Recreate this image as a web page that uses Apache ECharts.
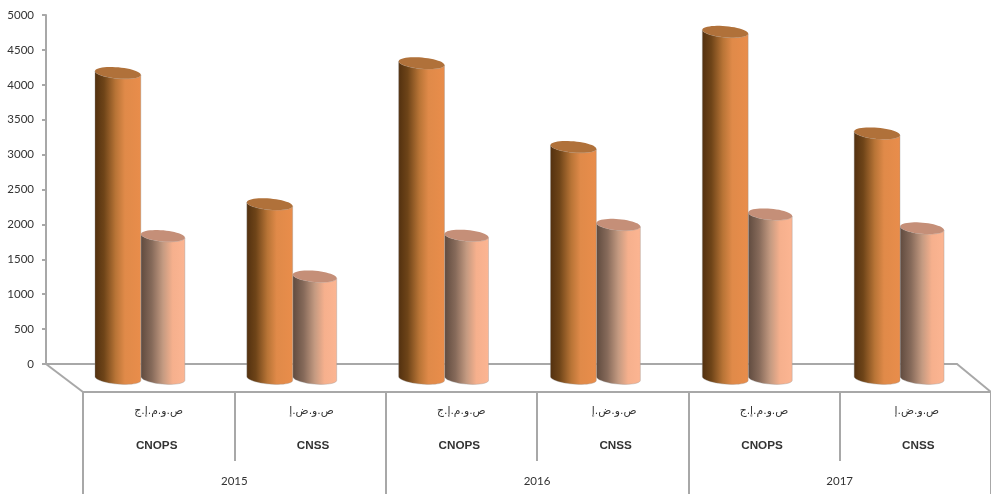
<!DOCTYPE html>
<html><head><meta charset="utf-8">
<script src="https://cdn.jsdelivr.net/npm/echarts@6/dist/echarts.min.js"></script>
<style>html,body{margin:0;padding:0;background:#fff}#c{width:991px;height:494px}</style>
</head><body><div id="c"></div>
<script>
const arabicLabels = ['ص.و.م.إ.ج','ص.و.ض.إ','ص.و.م.إ.ج','ص.و.ض.إ','ص.و.م.إ.ج','ص.و.ض.إ'];
const schemes = ['CNOPS','CNSS','CNOPS','CNSS','CNOPS','CNSS'];
const years = ['2015','2016','2017'];
const darkValues = [4170,2290,4310,3110,4760,3305];
const lightValues = [1835,1255,1840,1995,2145,1945];

const GREY = '#a8a8a8';
const DEPTH_X = 19, DEPTH_Y = 15;

function ellipsePts(cx, cy, rx, ry, from, to, n) {
  const a = 5 * Math.PI / 180, pts = [];
  for (let i = 0; i <= n; i++) {
    const t = from + (to - from) * i / n;
    pts.push([cx + rx * Math.cos(t) * Math.cos(a) - ry * Math.sin(t) * Math.sin(a),
              cy + rx * Math.cos(t) * Math.sin(a) + ry * Math.sin(t) * Math.cos(a)]);
  }
  return pts;
}
function grad(stops) {
  return {type:'linear',x:0,y:0,x2:1,y2:0,colorStops:stops.map(s=>({offset:s[0],color:s[1]}))};
}
function cylinder(side, widthFrac, stops, topColor) {
  return function (params, api) {
    const band = api.size([1, 0])[0];
    const w = band * widthFrac;
    const p = api.coord([api.value(0), api.value(1)]);
    const zero = api.coord([api.value(0), 0]);
    const seam = p[0] + DEPTH_X;
    const cx = side < 0 ? seam - w / 2 : seam + w / 2;
    const rx = w / 2, ry = 5.6;
    const topY = p[1], botY = zero[1] + DEPTH_Y - 0.5;
    const body = ellipsePts(cx, botY, rx, ry, 0, Math.PI, 24)
      .concat(ellipsePts(cx, topY, rx, ry, Math.PI, 0, 24));
    return {type:'group', children:[
      {type:'polygon', shape:{points:body}, style:{fill:grad(stops), stroke:'rgba(150,150,150,0.5)', lineWidth:0.7}},
      {type:'polygon', shape:{points:ellipsePts(cx, topY, rx, ry, 0, 2*Math.PI, 48)}, style:{fill:topColor}}
    ]};
  };
}
function floor(params, api) {
  const c = params.coordSys;
  const y = c.y + c.height;
  return {type:'group', children:[
    {type:'line', shape:{x1:c.x, y1:y, x2:c.x+37, y2:y+28}, style:{stroke:GREY, lineWidth:2}},
    {type:'line', shape:{x1:c.x+c.width, y1:y, x2:c.x+c.width+34, y2:y+28}, style:{stroke:GREY, lineWidth:2}}
  ]};
}
const chart = echarts.init(document.getElementById('c'), null, {renderer:'canvas'});
const hiddenCat = (gridIndex, data, extra) => Object.assign({
  type:'category', gridIndex, data, position:'bottom', boundaryGap:true,
  axisLine:{show:false}, axisTick:{show:false}, axisLabel:{show:false}
}, extra);
const boldStyle = {fontFamily:'Liberation Sans', fontWeight:'bold', fontSize:11.7, color:'#333'};
const arStyle = {fontFamily:'DejaVu Sans', fontSize:10.8, color:'#333'};
chart.setOption({
  animation:false,
  backgroundColor:'#fff',
  grid:[
    {left:46, top:15, width:911, height:349},
    {left:83, top:391, width:910.5, height:1}
  ],
  xAxis:[
    hiddenCat(0, schemes, {axisLine:{show:true, lineStyle:{color:GREY, width:2}}}),
    hiddenCat(1, arabicLabels, {
      axisLine:{show:true, lineStyle:{color:GREY, width:2}},
      axisTick:{show:true, length:69, lineStyle:{color:GREY, width:2}},
      axisLabel:{show:true, interval:0, margin:14,
        formatter:(v,i)=> i%2 ? '{b|'+v+'}' : '{a|'+v+'}',
        rich:{a:arStyle, b:Object.assign({padding:[0,0,0,3]},arStyle)}}
    }),
    hiddenCat(1, schemes, {
      axisLabel:{show:true, interval:0, margin:48,
        formatter:(v,i)=> i%2 ? '{b|'+v+'}' : '{a|'+v+'}',
        rich:{a:Object.assign({padding:[0,4,0,0]},boldStyle), b:Object.assign({padding:[0,0,0,6]},boldStyle)}}
    }),
    hiddenCat(1, years, {
      axisTick:{show:true, length:102, lineStyle:{color:GREY, width:2}},
      axisLabel:{show:true, interval:0, margin:83, fontFamily:'Lato', fontSize:11.5, color:'#333'}
    })
  ],
  yAxis:[
    {type:'value', gridIndex:0, min:0, max:5000, interval:500, splitLine:{show:false},
     axisLine:{show:true, lineStyle:{color:GREY, width:2}},
     axisTick:{show:true, length:4, lineStyle:{color:GREY, width:2}},
     axisLabel:{margin:12, fontFamily:'Lato', fontSize:11.5, color:'#333', formatter:v=>String(v)}},
    {type:'value', gridIndex:1, show:false}
  ],
  series:[
    {type:'custom', xAxisIndex:0, yAxisIndex:0, renderItem:floor, data:[[0,0]], silent:true, clip:false, z:1},
    {type:'custom', name:'light', xAxisIndex:0, yAxisIndex:0, encode:{x:0,y:1}, clip:false, z:2,
     data:lightValues.map((v,i)=>[i,v]),
     renderItem:cylinder(1, 0.29, [[0,'#5f4a3e'],[0.25,'#866a5a'],[0.5,'#c49a81'],[0.72,'#f6b08d'],[1,'#fcb592']], '#c58f78')},
    {type:'custom', name:'dark', xAxisIndex:0, yAxisIndex:0, encode:{x:0,y:1}, clip:false, z:3,
     data:darkValues.map((v,i)=>[i,v]),
     renderItem:cylinder(-1, 0.303, [[0,'#52300f'],[0.2,'#6e4418'],[0.45,'#b87436'],[0.65,'#e08a49'],[1,'#e98d4b']], '#b0713a')}
  ]
});
</script></body></html>
